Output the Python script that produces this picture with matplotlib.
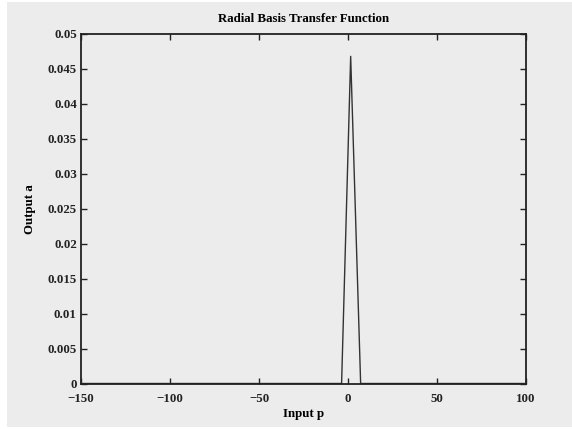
import matplotlib
matplotlib.use("Agg")
import matplotlib.pyplot as plt
from matplotlib.patches import Rectangle

# data
x_vals = [-150, -3.6, 1.5, 7.1, 100]
y_vals = [0, 0, 0.0468, 0, 0]
x_ticks = [-150, -100, -50, 0, 50, 100]
y_ticks = [0, 0.005, 0.01, 0.015, 0.02, 0.025, 0.03, 0.035, 0.04, 0.045, 0.05]
y_tick_labels = ["0", "0.005", "0.01", "0.015", "0.02", "0.025", "0.03",
                 "0.035", "0.04", "0.045", "0.05"]
x_tick_labels = ["\u2212150", "\u2212100", "\u221250", "0", "50", "100"]

W, H = 572, 429
bg = "#ececec"
plt.rcParams['font.family'] = ['Liberation Serif', 'DejaVu Serif']
plt.rcParams['font.size'] = 9.3
plt.rcParams['font.weight'] = 'bold'

fig = plt.figure(figsize=(W / 100, H / 100), dpi=100, facecolor="white")
fig.patches.append(Rectangle((7 / W, (H - 427) / H), (W - 7) / W, (427 - 2) / H,
                             transform=fig.transFigure, facecolor=bg,
                             edgecolor="none", zorder=-10))

left, right, top, bottom = 81, 526, 34, 383.5
ax = fig.add_axes([left / W, (H - bottom) / H, (right - left) / W, (bottom - top) / H])
ax.set_zorder(1)
ax.set_facecolor(bg)
ax.plot(x_vals, y_vals, color="#333333", linewidth=1.0)
ax.set_xlim(-150, 100)
ax.set_ylim(0, 0.05)
ax.set_xticks(x_ticks)
ax.set_xticklabels(x_tick_labels, fontweight="bold")
ax.set_yticks(y_ticks)
ax.set_yticklabels(y_tick_labels, fontweight="bold")
ax.tick_params(direction="in", top=True, right=True, length=4, width=1.0,
               colors="#222222")
ax.tick_params(axis="x", pad=7)
ax.tick_params(axis="y", pad=3)
for s in ax.spines.values():
    s.set_linewidth(1.3)
    s.set_color("#222222")

ax.set_title("Radial Basis Transfer Function", fontsize=9.3, fontweight="bold", pad=9)
ax.set_xlabel("Input p", fontweight="bold", labelpad=2)
ax.set_ylabel("Output a", fontweight="bold", labelpad=8)

fig.savefig("out.png", dpi=100, facecolor=fig.get_facecolor())
